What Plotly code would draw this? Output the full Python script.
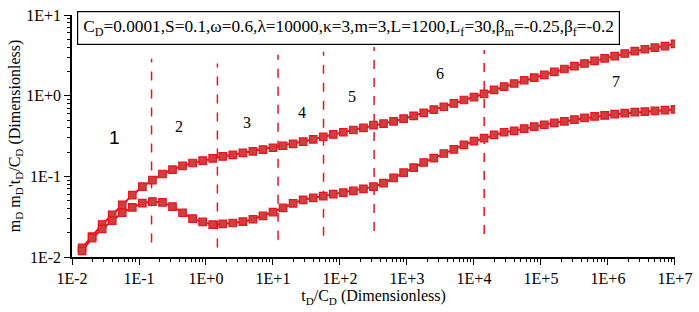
import math
import plotly.graph_objects as go

# dimensionless time tD/CD
t_cd = [0.01413, 0.01995, 0.02818, 0.03981, 0.05623, 0.07943, 0.1122, 0.1585, 0.2239, 0.3162,
        0.4467, 0.631, 0.8913, 1.259, 1.778, 2.512, 3.548, 5.012, 7.079, 10.0,
        14.13, 19.95, 28.18, 39.81, 56.23, 79.43, 112.2, 158.5, 223.9, 316.2,
        446.7, 631.0, 891.3, 1259, 1778, 2512, 3548, 5012, 7079, 10000,
        14130, 19950, 28180, 39810, 56230, 79430, 112200, 158500, 223900, 316200,
        446700, 631000, 891300, 1.259e6, 1.778e6, 2.512e6, 3.548e6, 5.012e6, 7.079e6, 1.0e7]

# dimensionless pressure mD
m_d = [0.0130, 0.0179, 0.0253, 0.0334, 0.0444, 0.0585, 0.0744, 0.0898, 0.107, 0.121,
       0.135, 0.1465, 0.157, 0.167, 0.1767, 0.185, 0.195, 0.2046, 0.2144, 0.2265,
       0.2395, 0.253, 0.270, 0.288, 0.310, 0.331, 0.3525, 0.376, 0.399, 0.4315,
       0.452, 0.482, 0.519, 0.564, 0.613, 0.671, 0.730, 0.802, 0.885, 0.962,
       1.057, 1.180, 1.293, 1.417, 1.556, 1.672, 1.817, 1.973, 2.145, 2.329,
       2.51, 2.705, 2.906, 3.105, 3.337, 3.567, 3.77, 3.94, 4.13, 4.40]

# pressure derivative mD' tD/CD
m_d_deriv = [0.01194, 0.01718, 0.0223, 0.0283, 0.0354, 0.0412, 0.0465, 0.0486, 0.0475, 0.0422,
             0.0354, 0.0299, 0.0272, 0.0252, 0.0257, 0.0264, 0.0274, 0.0294, 0.0323, 0.0361,
             0.0406, 0.0462, 0.0512, 0.0541, 0.0569, 0.0601, 0.0627, 0.0659, 0.070, 0.0744,
             0.0822, 0.0955, 0.1114, 0.128, 0.1486, 0.1686, 0.192, 0.2163, 0.246, 0.273,
             0.2985, 0.327, 0.3525, 0.367, 0.391, 0.413, 0.4365, 0.461, 0.482, 0.505,
             0.530, 0.553, 0.569, 0.591, 0.608, 0.625, 0.635, 0.648, 0.661, 0.679]

# flow regime boundaries (x) and their vertical extents
bound_x = [0.154, 1.48, 11.9, 56.8, 323, 14200]
bound_ylo = [0.0151, 0.01315, 0.0164, 0.0183, 0.0210, 0.0193]
bound_yhi = [2.88, 2.51, 3.22, 3.50, 4.02, 3.70]

# flow regime labels
reg_text = ["1", "2", "3", "4", "5", "6", "7"]
reg_x = [0.0435, 0.400, 4.08, 26.7, 153, 3090, 1.31e6]
reg_y = [0.307, 0.416, 0.464, 0.613, 0.98, 1.905, 1.49]

param_text = ("C<sub>D</sub>=0.0001,S=0.1,ω=0.6,λ=10000,κ=3,m=3,L=1200,"
              "L<sub>f</sub>=30,β<sub>m</sub>=-0.25,β<sub>f</sub>=-0.2")

xtick_vals = [1e-2, 1e-1, 1e0, 1e1, 1e2, 1e3, 1e4, 1e5, 1e6, 1e7]
xtick_text = ["1E-2", "1E-1", "1E+0", "1E+1", "1E+2", "1E+3", "1E+4", "1E+5", "1E+6", "1E+7"]
ytick_vals = [1e-2, 1e-1, 1e0, 1e1]
ytick_text = ["1E-2", "1E-1", "1E+0", "1E+1"]

FONT = "Times New Roman, Liberation Serif, DejaVu Serif, serif"
RED = "#e8141e"

fig = go.Figure()

for xv, lo, hi in zip(bound_x, bound_ylo, bound_yhi):
    fig.add_trace(go.Scatter(x=[xv, xv], y=[lo, hi], mode="lines",
                             line=dict(color=RED, width=1.5, dash="dash"),
                             showlegend=False, hoverinfo="skip"))

for ys in (m_d, m_d_deriv):
    fig.add_trace(go.Scatter(x=t_cd, y=ys, mode="lines+markers",
                             line=dict(color=RED, width=2),
                             marker=dict(symbol="square", size=7.5, color="#cc4040",
                                         line=dict(color=RED, width=1.2)),
                             showlegend=False))

for t, xv, yv in zip(reg_text, reg_x, reg_y):
    big = (t == "1")
    fig.add_annotation(x=math.log10(xv), y=math.log10(yv), text=t, showarrow=False,
                       font=dict(family="Liberation Sans, Arial, sans-serif" if big else FONT,
                                 size=19 if big else 16, color="black"))

fig.add_annotation(xref="paper", yref="paper", x=0.458, y=0.948, xanchor="center", yanchor="middle",
                   text=param_text, showarrow=False,
                   font=dict(family=FONT, size=17.3, color="black"),
                   bordercolor="black", borderwidth=1.2, borderpad=5, bgcolor="white")

minor_x = [m * 10 ** e for e in range(-2, 7) for m in range(2, 10)]
minor_y = [m * 10 ** e for e in range(-2, 1) for m in range(2, 10)]

fig.update_xaxes(type="log", range=[-2, 7.0005], tickvals=xtick_vals, ticktext=xtick_text,
                 ticks="outside", ticklen=6, tickwidth=1.3, tickcolor="black",
                 ticklabeloverflow="allow",
                 minor=dict(tickvals=minor_x, ticks="outside", ticklen=3.5, tickwidth=1, tickcolor="black",
                            showgrid=False),
                 showline=True, linecolor="black", linewidth=1.5, showgrid=False, zeroline=False,
                 tickfont=dict(family=FONT, size=16, color="black"),
                 title=dict(text="t<sub>D</sub>/C<sub>D</sub> (Dimensionless)",
                            font=dict(family=FONT, size=16, color="black"), standoff=4))
fig.update_yaxes(type="log", range=[-2, 1.001], tickvals=ytick_vals, ticktext=ytick_text,
                 ticks="outside", ticklen=6, tickwidth=1.3, tickcolor="black",
                 ticklabeloverflow="allow",
                 minor=dict(tickvals=minor_y, ticks="outside", ticklen=3.5, tickwidth=1, tickcolor="black",
                            showgrid=False),
                 showline=True, linecolor="black", linewidth=1.5, showgrid=False, zeroline=False,
                 tickfont=dict(family=FONT, size=16, color="black"),
                 title=dict(text="m<sub>D</sub> m<sub>D</sub>'t<sub>D</sub>/C<sub>D</sub> (Dimensionless)",
                            font=dict(family=FONT, size=16, color="black"), standoff=2))

fig.update_layout(width=699, height=312, margin=dict(l=72, r=20, t=7, b=55),
                  plot_bgcolor="white", paper_bgcolor="white")

fig.write_html("out.html", config={"displayModeBar": False},
               post_script="document.body.style.margin='0';")
